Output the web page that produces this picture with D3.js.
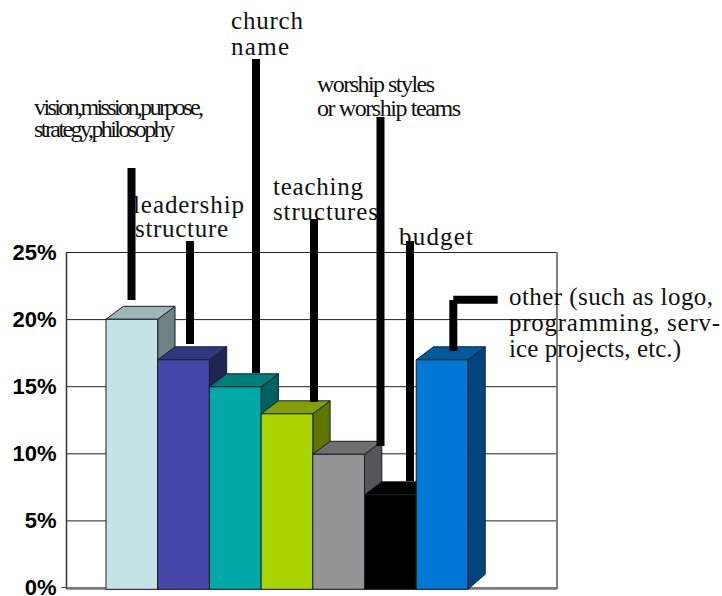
<!DOCTYPE html>
<html>
<head>
<meta charset="utf-8">
<script src="https://cdn.jsdelivr.net/npm/d3@7"></script>
<style>
  html, body { margin: 0; padding: 0; background: #fff; overflow: hidden; }
  svg { display: block; }
</style>
</head>
<body>
<svg id="chart"></svg>
<script>
var categories = ["vision", "leadership", "church name", "teaching", "worship", "budget", "other"];
var values = [20, 17, 15, 13, 10, 7, 17];
var tick_values = [0, 5, 10, 15, 20, 25];
var front_colors = ["#c5e3e7", "#4447a8", "#00a8a8", "#aad400", "#949494", "#000000", "#0078d4"];
var top_colors = ["#a0b5b8", "#33357e", "#007e7e", "#84a000", "#6f6f6f", "#000000", "#005aa0"];
var side_colors = ["#718285", "#222454", "#006060", "#5f7600", "#555555", "#000000", "#00457f"];

// callout text, one entry per line: text, x, baseline, width, font size
var label_lines = [
  ["vision,mission,purpose,", 34, 115, 170, 24],
  ["strategy,philosophy", 34, 137, 141, 24],
  ["leadership", 133, 213, 111, 25],
  ["structure", 135, 237, 93, 25],
  ["church", 231, 29, 72, 25],
  ["name", 231, 55, 58, 25],
  ["teaching", 273, 195, 90, 25],
  ["structures", 273, 220, 105, 25],
  ["worship styles", 317, 92, 118, 24],
  ["or worship teams", 317, 116, 144, 24],
  ["budget", 399, 245, 74, 25],
  ["other (such as logo,", 509, 305, 204, 25],
  ["programming, serv-", 509, 331, 211, 25],
  ["ice projects, etc.)", 509, 357, 172, 25]
];

// leader lines in pixels, the callouts were placed by hand over the chart
var leaders = [
  [[131.5, 168], [131.5, 300]],
  [[190, 241], [190, 344]],
  [[256, 59], [256, 373]],
  [[314, 219], [314, 402]],
  [[380.5, 117], [380.5, 446]],
  [[410, 241], [410, 481]],
  [[453.3, 351], [453.3, 300]],
  [[453.3, 299.7], [497.7, 299.7]]
];

var W = 722, H = 596;
var left = 66.5, right = 557;
var bar_left = 106, bar_w = 51.7, depth_x = 17.3, depth_y = 13;

var svg = d3.select("svg#chart").attr("width", W).attr("height", H);

var y = d3.scaleLinear().domain([0, 25]).range([587.5, 252]);
var bar_y = d3.scaleLinear().domain([0, 20]).range([589.3, 319.3]);
var x = d3.scaleBand().domain(categories)
  .range([bar_left, bar_left + bar_w * categories.length]);

// AXES
var yAxis = d3.axisLeft(y)
  .tickValues(tick_values)
  .tickSize(-(right - left))
  .tickPadding(10)
  .tickFormat(function(d) { return d + "%"; });

var g = svg.append("g").attr("transform", "translate(" + left + ",0)").call(yAxis);
g.select(".domain").remove();
g.selectAll(".tick line").attr("stroke", "#222").attr("stroke-width", 1);
g.selectAll(".tick text")
  .attr("fill", "#000")
  .style("font-family", "'Liberation Sans', Arial, sans-serif")
  .style("font-weight", "bold")
  .style("font-size", "22px");

// plot box, the right wall is greyer than the left
svg.append("line").attr("x1", left).attr("x2", left).attr("y1", y(25)).attr("y2", bar_y(0))
  .attr("stroke", "#333").attr("stroke-width", 1.5);
svg.append("line").attr("x1", right).attr("x2", right).attr("y1", y(25)).attr("y2", bar_y(0))
  .attr("stroke", "#808080").attr("stroke-width", 2);
svg.append("line").attr("x1", left).attr("x2", right).attr("y1", y(0) + 1).attr("y2", y(0) + 1)
  .attr("stroke", "#777").attr("stroke-width", 2.5);
// little tick left of the floor
svg.append("line").attr("x1", left - 5).attr("x2", left).attr("y1", y(0)).attr("y2", y(0))
  .attr("stroke", "#333");

// BARS
var bars = svg.selectAll("g.bar").data(values).enter().append("g").attr("class", "bar");

function shape(fn) {
  return function(d, i) {
    var x0 = x(categories[i]), x1 = x0 + x.bandwidth(), t = bar_y(d), b = bar_y(0);
    return fn(x0, x1, t, b).map(function(p) { return p.join(","); }).join(" ");
  };
}

bars.append("polygon")
  .attr("points", shape(function(x0, x1, t, b) {
    return [[x1, t], [x1 + depth_x, t - depth_y], [x1 + depth_x, b - depth_y - 2], [x1, b]];
  }))
  .attr("fill", function(d, i) { return side_colors[i]; });
bars.append("polygon")
  .attr("points", shape(function(x0, x1, t, b) {
    return [[x0, t], [x0 + depth_x, t - depth_y], [x1 + depth_x, t - depth_y], [x1, t]];
  }))
  .attr("fill", function(d, i) { return top_colors[i]; });
bars.append("polygon")
  .attr("points", shape(function(x0, x1, t, b) {
    return [[x0, t], [x1, t], [x1, b], [x0, b]];
  }))
  .attr("fill", function(d, i) { return front_colors[i]; });
bars.selectAll("polygon").attr("stroke", "#10202a").attr("stroke-width", 1).attr("stroke-linejoin", "round");

// CALLOUTS
svg.selectAll("text.callout").data(label_lines).enter().append("text")
  .attr("class", "callout")
  .attr("x", function(d) { return d[1]; })
  .attr("y", function(d) { return d[2]; })
  .attr("textLength", function(d) { return d[3]; })
  .attr("lengthAdjust", "spacing")
  .style("font-family", "'Liberation Serif', 'Times New Roman', serif")
  .style("font-size", function(d) { return d[4] + "px"; })
  .attr("fill", "#111")
  .text(function(d) { return d[0]; });

var line = d3.line();
svg.selectAll("path.leader").data(leaders).enter().append("path")
  .attr("class", "leader")
  .attr("d", line)
  .attr("fill", "none")
  .attr("stroke", "#000")
  .attr("stroke-width", 8);
</script>
</body>
</html>
